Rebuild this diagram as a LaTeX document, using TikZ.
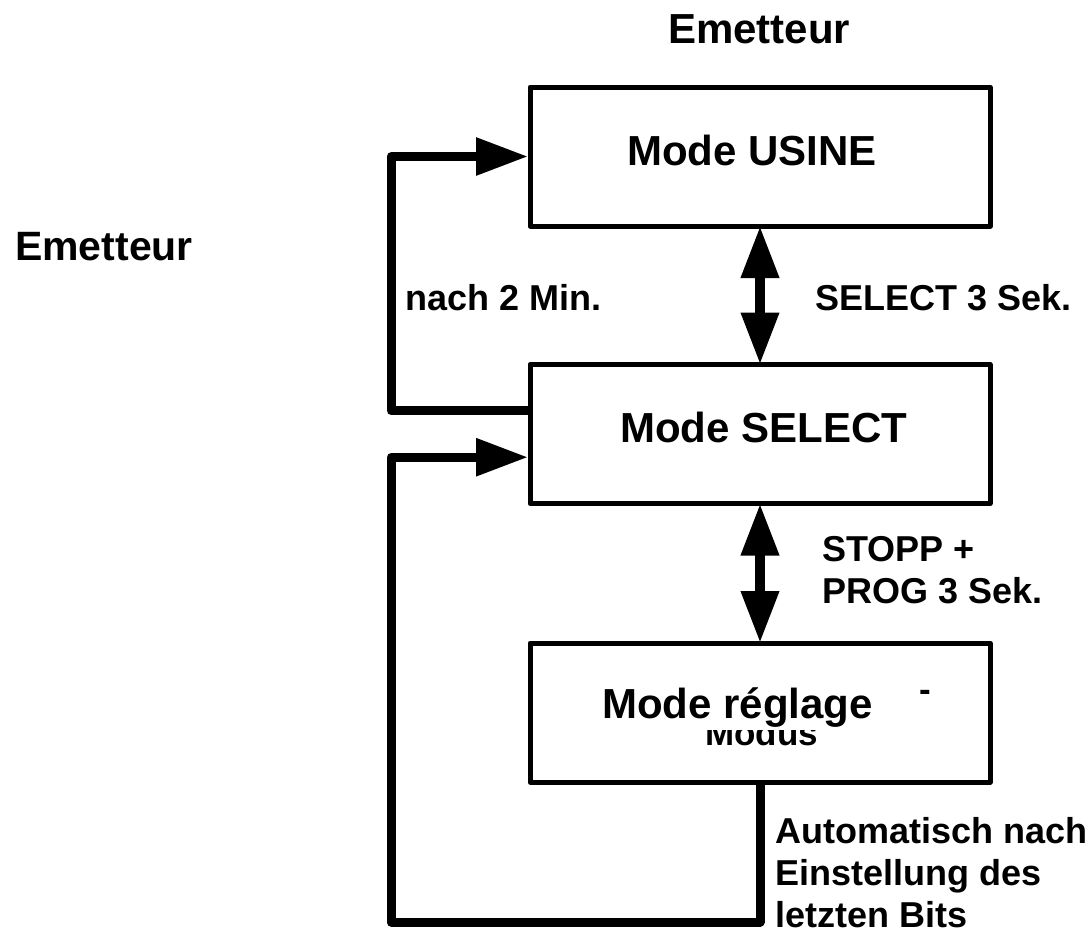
\documentclass[tikz,border=0pt]{standalone}
\usepackage{fontspec}
\setmainfont{Liberation Sans}
\usetikzlibrary{arrows.meta,calc}
\begin{document}
\begin{tikzpicture}[x=1pt,y=-1pt,
  box/.style={draw,line width=5pt,line join=round,minimum width=460pt,minimum height=139pt,inner sep=0pt,outer sep=0pt},
  big/.style={font=\fontsize{42}{50}\selectfont\bfseries,inner sep=0pt,anchor=base west},
  lbl/.style={font=\fontsize{36}{42}\selectfont\bfseries,inner sep=0pt,anchor=base west},
  multi/.style={font=\fontsize{36}{42}\selectfont\bfseries,inner sep=0pt,anchor=north west,align=left},
  loopline/.style={line width=9pt,line join=round,shorten >=2pt,-{Triangle[length=52pt,width=36pt]}},
  dbl/.style={line width=10pt,{Triangle[length=52pt,width=36pt]}-{Triangle[length=52pt,width=36pt]}}]
\useasboundingbox (0,0) rectangle (1088,932);

% boxes
\node[box] (usine) at (760,156.5) {};
\node[box] (sel) at (760,434) {};
\node[box] (reg) at (760,712.5) {};

% titles
\node[big] (t1) at (668,43) {Emetteur};
\node[font=\fontsize{41}{48}\selectfont\bfseries,inner sep=0pt,anchor=base west] (t2) at (15,260) {Emetteur};

% box texts
\node[big] (tU) at (627,165) {Mode USINE};
\node[big] (tS) at (620,442) {Mode SELECT};
\node[font=\fontsize{35}{40}\selectfont\bfseries,inner sep=0pt,anchor=base west] (tM) at (705,745) {Modus};
\node[big,fill=white,inner sep=3pt] (tR) at (599,718) {Mode réglage};
\node[font=\fontsize{35}{40}\selectfont\bfseries,inner sep=0pt,anchor=base] (tD) at (925,701) {-};

% labels
\node[lbl] (l1) at (405,310) {nach 2 Min.};
\node[lbl] (l2) at (815,310) {SELECT 3 Sek.};
\node[multi] (l3) at (822,536) {STOPP +\\PROG 3 Sek.};
\node[multi] (l4) at (775,817) {Automatisch nach\\Einstellung des\\letzten Bits};

% connectors
\coordinate (a1) at ($(sel.north west)!0.333!(sel.south west)$);
\coordinate (a2) at ($(sel.north west)!0.667!(sel.south west)$);
\draw[loopline] (a1) -- ++(-139,0) |- (usine.west);
\draw[loopline] (reg.south) |- ++(-369,140) |- (a2);
\draw[dbl] (usine.south) -- (sel.north);
\draw[dbl] (sel.south) -- (reg.north);
\end{tikzpicture}
\end{document}
